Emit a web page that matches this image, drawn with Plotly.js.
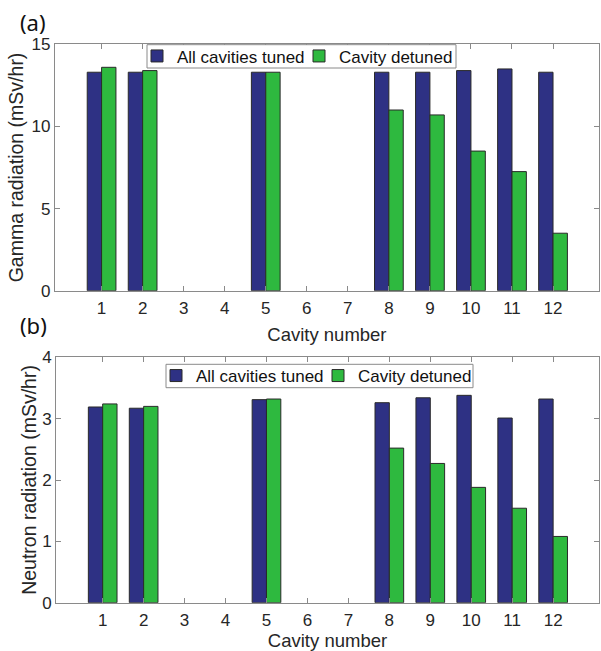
<!DOCTYPE html>
<html>
<head>
<meta charset="utf-8">
<script src="https://cdn.plot.ly/plotly-3.0.1.min.js"></script>
<style>html,body{margin:0;padding:0;background:#fff;}#chart{width:601px;height:651px;}</style>
</head>
<body>
<div id="chart"></div>
<script>
const cavities = [1,2,3,4,5,6,7,8,9,10,11,12];
const seriesNames = ['All cavities tuned','Cavity detuned'];
const gammaTuned   = [13.3, 13.3, null, null, 13.3, null, null, 13.3, 13.3, 13.4, 13.5, 13.3];
const gammaDetuned = [13.6, 13.4, null, null, 13.3, null, null, 11.0, 10.7, 8.5, 7.25, 3.5];
const neutronTuned   = [3.19, 3.17, null, null, 3.31, null, null, 3.26, 3.34, 3.38, 3.01, 3.32];
const neutronDetuned = [3.24, 3.20, null, null, 3.32, null, null, 2.52, 2.27, 1.88, 1.54, 1.08];
const gammaTicks = [0,5,10,15];
const neutronTicks = [0,1,2,3,4];

const navy = '#2e3184';
const green = '#2eb93f';
const edge = {color:'#2a2a2a', width:1};
const W = 601, H = 651;
const px = v => v / W;
const py = v => 1 - v / H;

const traces = [
  {type:'bar', x:cavities, y:gammaTuned, name:seriesNames[0], marker:{color:navy, line:edge}, xaxis:'x', yaxis:'y', legend:'legend'},
  {type:'bar', x:cavities, y:gammaDetuned, name:seriesNames[1], marker:{color:green, line:edge}, xaxis:'x', yaxis:'y', legend:'legend'},
  {type:'bar', x:cavities, y:neutronTuned, name:seriesNames[0], marker:{color:navy, line:edge}, xaxis:'x2', yaxis:'y2', legend:'legend2'},
  {type:'bar', x:cavities, y:neutronDetuned, name:seriesNames[1], marker:{color:green, line:edge}, xaxis:'x2', yaxis:'y2', legend:'legend2'}
];

const fam = '"Liberation Sans", Arial, sans-serif';
const txt = '#262626';
const axisCommon = {
  showline:true, linecolor:'#8a8a8a', linewidth:1, mirror:'ticks',
  ticks:'inside', ticklen:5, tickcolor:'#8a8a8a', tickwidth:1,
  showgrid:false, zeroline:false, fixedrange:true,
  tickfont:{family:fam, size:17, color:txt}
};
const xCommon = Object.assign({}, axisCommon, {
  range:[-0.14, 13.12], tickvals:cavities, ticktext:cavities.map(String), ticklabelstandoff:2
});

const legendCommon = {
  orientation:'h', xanchor:'left', yanchor:'middle',
  bgcolor:'rgba(0,0,0,0)', borderwidth:0,
  font:{family:fam, size:17, color:'#111'},
  itemwidth:30, tracegroupgap:0, itemclick:false, itemdoubleclick:false,
  entrywidthmode:'pixels', entrywidth:117
};

// legend frames (boxes behind the legend entries)
const box = (x0, y0, x1, y1) => ({type:'rect', xref:'paper', yref:'paper', layer:'above',
  x0:px(x0), x1:px(x1), y0:py(y1), y1:py(y0), fillcolor:'#ffffff', line:{color:'#8a8a8a', width:1}});

const layout = {
  width:W, height:H,
  margin:{l:0, r:0, t:0, b:0},
  paper_bgcolor:'#fff', plot_bgcolor:'#fff',
  font:{family:fam, color:txt},
  barmode:'group', bargap:0.3, bargroupgap:0,
  xaxis: Object.assign({}, xCommon, {domain:[px(54.8), px(599)], anchor:'y',
    title:{text:'Cavity number', font:{family:fam, size:18.5, color:txt}, standoff:10}}),
  yaxis: Object.assign({}, axisCommon, {domain:[py(290.7), py(44.3)], anchor:'x', range:[0,15], tickvals:gammaTicks,
    title:{text:'Gamma radiation (mSv/hr)', font:{family:fam, size:19.5, color:txt}, standoff:2}}),
  xaxis2: Object.assign({}, xCommon, {domain:[px(56), px(599)], anchor:'y2',
    title:{text:'Cavity number', font:{family:fam, size:18.5, color:txt}, standoff:13}}),
  yaxis2: Object.assign({}, axisCommon, {domain:[py(602.7), py(357.3)], anchor:'x2', range:[0,4], tickvals:neutronTicks,
    title:{text:'Neutron radiation (mSv/hr)', font:{family:fam, size:19.5, color:txt}, standoff:0}}),
  legend: Object.assign({}, legendCommon, {x:px(137), y:py(56.4)}),
  legend2: Object.assign({}, legendCommon, {x:px(156), y:py(376)}),
  shapes:[box(147, 44.7, 456, 68), box(166, 364.3, 473, 387.7)],
  annotations:[
    {text:'(a)', xref:'paper', yref:'paper', x:px(33), y:py(22), xanchor:'center', yanchor:'middle', showarrow:false,
      font:{family:'"Noto Sans", "Open Sans", sans-serif', size:22, color:'#111'}},
    {text:'(b)', xref:'paper', yref:'paper', x:px(33), y:py(325), xanchor:'center', yanchor:'middle', showarrow:false,
      font:{family:'"Noto Sans", "Open Sans", sans-serif', size:22, color:'#111'}}
  ],
  showlegend:true
};

Plotly.newPlot('chart', traces, layout, {displayModeBar:false, staticPlot:true});
</script>
</body>
</html>
